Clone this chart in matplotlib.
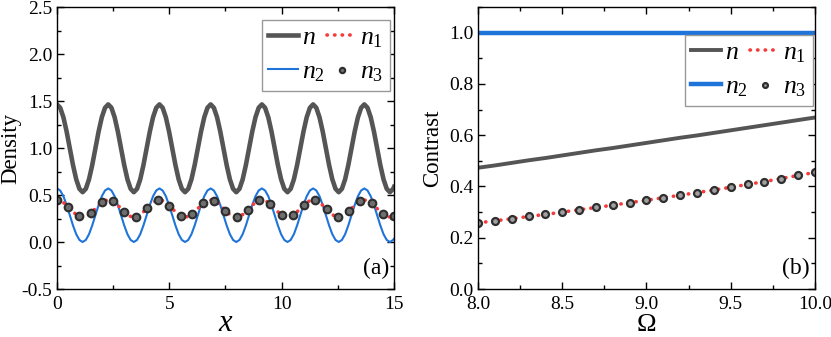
import numpy as np
import matplotlib
matplotlib.use("Agg")
import matplotlib.pyplot as plt
from matplotlib.ticker import MultipleLocator

plt.rcParams["font.family"] = ["Liberation Serif", "DejaVu Serif"]
plt.rcParams["mathtext.fontset"] = "custom"
plt.rcParams["mathtext.rm"] = "Liberation Serif"
plt.rcParams["mathtext.it"] = "Liberation Serif:italic"
plt.rcParams["axes.unicode_minus"] = False

GRAY = "#555555"
BLUE = "#1f74d9"
RED = "#f53b3b"
MK_EDGE = "#2e2e2e"

# ---- panel (a): densities along x (sample grid) ----
x_a = np.append(np.arange(106) * 0.1425, 15.0)
dens_n = [
    1.464, 1.428, 1.327, 1.176, 0.997, 0.818, 0.667, 0.566, 0.530, 0.566, 0.667, 0.818, 0.997, 1.176, 1.327, 1.428,
    1.464, 1.428, 1.327, 1.176, 0.997, 0.818, 0.667, 0.566, 0.530, 0.566, 0.667, 0.818, 0.997, 1.176, 1.327, 1.428,
    1.464, 1.428, 1.327, 1.176, 0.997, 0.818, 0.667, 0.566, 0.530, 0.566, 0.667, 0.818, 0.997, 1.176, 1.327, 1.428,
    1.464, 1.428, 1.327, 1.176, 0.997, 0.818, 0.667, 0.566, 0.530, 0.566, 0.667, 0.818, 0.997, 1.176, 1.327, 1.428,
    1.464, 1.428, 1.327, 1.176, 0.997, 0.818, 0.667, 0.566, 0.530, 0.566, 0.667, 0.818, 0.997, 1.176, 1.327, 1.428,
    1.464, 1.428, 1.327, 1.176, 0.997, 0.818, 0.667, 0.566, 0.530, 0.566, 0.667, 0.818, 0.997, 1.176, 1.327, 1.428,
    1.464, 1.428, 1.327, 1.176, 0.997, 0.818, 0.667, 0.566, 0.530, 0.566, 0.586,
]
dens_n1 = [
    0.447, 0.440, 0.420, 0.391, 0.356, 0.321, 0.292, 0.272, 0.265, 0.272, 0.292, 0.321, 0.356, 0.391, 0.420, 0.440,
    0.447, 0.440, 0.420, 0.391, 0.356, 0.321, 0.292, 0.272, 0.265, 0.272, 0.292, 0.321, 0.356, 0.391, 0.420, 0.440,
    0.447, 0.440, 0.420, 0.391, 0.356, 0.321, 0.292, 0.272, 0.265, 0.272, 0.292, 0.321, 0.356, 0.391, 0.420, 0.440,
    0.447, 0.440, 0.420, 0.391, 0.356, 0.321, 0.292, 0.272, 0.265, 0.272, 0.292, 0.321, 0.356, 0.391, 0.420, 0.440,
    0.447, 0.440, 0.420, 0.391, 0.356, 0.321, 0.292, 0.272, 0.265, 0.272, 0.292, 0.321, 0.356, 0.391, 0.420, 0.440,
    0.447, 0.440, 0.420, 0.391, 0.356, 0.321, 0.292, 0.272, 0.265, 0.272, 0.292, 0.321, 0.356, 0.391, 0.420, 0.440,
    0.447, 0.440, 0.420, 0.391, 0.356, 0.321, 0.292, 0.272, 0.265, 0.272, 0.276,
]
dens_n2 = [
    0.570, 0.548, 0.487, 0.394, 0.285, 0.176, 0.083, 0.022, 0.000, 0.022, 0.083, 0.176, 0.285, 0.394, 0.487, 0.548,
    0.570, 0.548, 0.487, 0.394, 0.285, 0.176, 0.083, 0.022, 0.000, 0.022, 0.083, 0.176, 0.285, 0.394, 0.487, 0.548,
    0.570, 0.548, 0.487, 0.394, 0.285, 0.176, 0.083, 0.022, 0.000, 0.022, 0.083, 0.176, 0.285, 0.394, 0.487, 0.548,
    0.570, 0.548, 0.487, 0.394, 0.285, 0.176, 0.083, 0.022, 0.000, 0.022, 0.083, 0.176, 0.285, 0.394, 0.487, 0.548,
    0.570, 0.548, 0.487, 0.394, 0.285, 0.176, 0.083, 0.022, 0.000, 0.022, 0.083, 0.176, 0.285, 0.394, 0.487, 0.548,
    0.570, 0.548, 0.487, 0.394, 0.285, 0.176, 0.083, 0.022, 0.000, 0.022, 0.083, 0.176, 0.285, 0.394, 0.487, 0.548,
    0.570, 0.548, 0.487, 0.394, 0.285, 0.176, 0.083, 0.022, 0.000, 0.022, 0.034,
]
x_n3 = np.arange(0, 15.01, 0.5)
dens_n3 = [0.447, 0.373, 0.272, 0.306, 0.421, 0.431, 0.319, 0.267, 0.359, 0.446,
           0.388, 0.278, 0.294, 0.410, 0.438, 0.334, 0.265, 0.344, 0.442, 0.402,
           0.287, 0.284, 0.397, 0.444, 0.349, 0.266, 0.329, 0.436, 0.414, 0.298,
           0.276]

# ---- panel (b): contrast vs Omega ----
omega = np.arange(8.0, 10.001, 0.1)
con_n = [0.473, 0.482, 0.492, 0.502, 0.511, 0.521, 0.531, 0.541, 0.550, 0.560, 0.570,
         0.580, 0.590, 0.599, 0.609, 0.619, 0.629, 0.639, 0.649, 0.659, 0.669]
con_n1 = [0.258, 0.266, 0.274, 0.283, 0.291, 0.300, 0.309, 0.318, 0.327, 0.337, 0.346,
          0.356, 0.366, 0.376, 0.386, 0.397, 0.408, 0.419, 0.431, 0.443, 0.455]
con_n2 = [1.0] * 21
con_n3 = [0.258, 0.266, 0.274, 0.283, 0.291, 0.300, 0.309, 0.318, 0.327, 0.337, 0.346,
          0.356, 0.366, 0.376, 0.386, 0.397, 0.408, 0.419, 0.431, 0.443, 0.455]

LAB = ["$\\mathit{n}$", "$\\mathit{n}_\\mathit{2}$", "$\\mathit{n}_\\mathit{1}$", "$\\mathit{n}_\\mathit{3}$"]

fig = plt.figure(figsize=(8.31, 3.37), dpi=100)
axA = fig.add_axes([0.0686, 0.1424, 0.4055, 0.8368])
axB = fig.add_axes([0.5752, 0.1424, 0.4055, 0.8368])

dot_style = dict(color=RED, linestyle=(0, (0.1, 2.0)), dash_capstyle="round")
leg_style = dict(ncol=2, loc="upper right", borderaxespad=0, fontsize=18.5, fancybox=False,
                 edgecolor="#999999", framealpha=1, handlelength=1.15, handletextpad=0.15,
                 columnspacing=0.1, borderpad=0.25, labelspacing=0.42, markerscale=0.7)

# panel (a)
axA.plot(x_a, dens_n, color=GRAY, linewidth=3.3, label=LAB[0])
axA.plot(x_a, dens_n2, color=BLUE, linewidth=1.5, label=LAB[1])
axA.plot(x_a, dens_n1, linewidth=2.6, label=LAB[2], **dot_style)
axA.plot(x_n3, dens_n3, linestyle="none", marker="o", markersize=5.5, markerfacecolor="#6e6e6e",
         markeredgecolor=MK_EDGE, markeredgewidth=1.5, label=LAB[3])
axA.set_xlim(0, 15)
axA.set_ylim(-0.5, 2.5)
axA.xaxis.set_major_locator(MultipleLocator(5))
axA.xaxis.set_minor_locator(MultipleLocator(2.5))
axA.yaxis.set_major_locator(MultipleLocator(0.5))
axA.yaxis.set_minor_locator(MultipleLocator(0.25))
axA.set_xlabel("$x$", fontsize=22, labelpad=-3)
axA.set_ylabel("Density", fontsize=16.5, labelpad=0)
axA.text(0.985, 0.035, "(a)", transform=axA.transAxes, ha="right", va="bottom", fontsize=17)
axA.legend(bbox_to_anchor=(0.988, 0.954), **leg_style)

# panel (b)
axB.plot(omega, con_n, color=GRAY, linewidth=2.8, label=LAB[0])
axB.plot(omega, con_n2, color=BLUE, linewidth=3.2, label=LAB[1])
axB.plot(omega, con_n1, linewidth=2.6, label=LAB[2], **dot_style)
axB.plot(omega, con_n3, linestyle="none", marker="o", markersize=5, markerfacecolor="#a0a0a0",
         markeredgecolor=MK_EDGE, markeredgewidth=1.6, label=LAB[3])
axB.set_xlim(8.0, 10.0)
axB.set_ylim(0.0, 1.1)
axB.xaxis.set_major_locator(MultipleLocator(0.5))
axB.xaxis.set_minor_locator(MultipleLocator(0.25))
axB.yaxis.set_major_locator(MultipleLocator(0.2))
axB.yaxis.set_minor_locator(MultipleLocator(0.1))
axB.set_xlabel("$\\Omega$", fontsize=19, labelpad=1)
axB.set_ylabel("Contrast", fontsize=16.5, labelpad=4)
axB.text(0.985, 0.035, "(b)", transform=axB.transAxes, ha="right", va="bottom", fontsize=17)
axB.legend(bbox_to_anchor=(0.994, 0.901), **leg_style)

for ax in (axA, axB):
    ax.tick_params(which="both", direction="in", top=True, right=True, labelsize=14)
    ax.tick_params(axis="x", pad=5)
    ax.tick_params(which="major", length=5, width=1)
    ax.tick_params(which="minor", length=3, width=1)
    for s in ax.spines.values():
        s.set_linewidth(1.0)

fig.savefig("out.png", dpi=100)
